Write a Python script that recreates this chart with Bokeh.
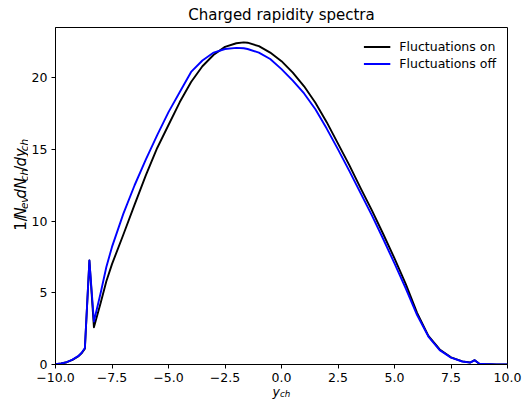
import math
from bokeh.plotting import figure
from bokeh.layouts import row
from bokeh.models import Label, FixedTicker, Legend, LegendItem, Range1d
from bokeh.embed import file_html
from bokeh.resources import INLINE

# ---- data ----
rapidity = [-10.0, -9.75, -9.5, -9.25, -9.0, -8.85, -8.7, -8.5, -8.3, -8.0, -7.75, -7.5,
            -7.0, -6.5, -6.0, -5.5, -5.0, -4.5, -4.0, -3.5, -3.0, -2.5, -2.0, -1.67,
            -1.5, -1.0, -0.5, 0.0, 0.5, 1.0, 1.5, 2.0, 2.5, 3.0, 3.5, 4.0, 4.5, 5.0,
            5.5, 6.0, 6.5, 7.0, 7.5, 8.0, 8.35, 8.55, 8.75, 9.0, 9.5, 10.0]
fluct_on = [0.02, 0.07, 0.16, 0.32, 0.56, 0.78, 1.1, 7.25, 2.6, 4.3, 5.8, 7.0,
            9.05, 11.15, 13.2, 15.1, 16.7, 18.3, 19.7, 20.8, 21.6, 22.15, 22.4, 22.46,
            22.44, 22.2, 21.75, 21.15, 20.35, 19.4, 18.25, 16.9, 15.4, 13.9, 12.3, 10.75, 9.1, 7.4,
            5.6, 3.6, 2.0, 1.05, 0.5, 0.22, 0.14, 0.3, 0.06, 0.03, 0.01, 0.0]
fluct_off = [0.02, 0.07, 0.17, 0.34, 0.58, 0.8, 1.15, 7.25, 3.0, 5.0, 6.8, 8.2,
             10.5, 12.5, 14.3, 16.0, 17.6, 19.0, 20.4, 21.2, 21.75, 22.0, 22.08, 22.05,
             22.0, 21.75, 21.3, 20.6, 19.8, 18.9, 17.8, 16.45, 15.0, 13.5, 11.95, 10.4, 8.75, 7.05,
             5.3, 3.45, 1.95, 1.0, 0.48, 0.21, 0.13, 0.3, 0.06, 0.03, 0.01, 0.0]
series_names = ["Fluctuations on", "Fluctuations off"]
x_ticks = [-10, -7.5, -5, -2.5, 0, 2.5, 5, 7.5, 10]
x_tick_labels = ["\u221210.0", "\u22127.5", "\u22125.0", "\u22122.5", "0.0", "2.5", "5.0", "7.5", "10.0"]
y_ticks = [0, 5, 10, 15, 20]
y_tick_labels = ["0", "5", "10", "15", "20"]
title_text = "Charged rapidity spectra"

# ---- layout constants ----
X0, X1, Y0, Y1 = -10.0, 10.0, 0.0, 23.5
FW, FH = 452, 337
LABW = 28                 # width of the strip that holds the y-axis title
H = 403
FONT = "DejaVu Sans"
MAIN = 12.5
SUB = 8.75
YMAIN = 15
YSUB = 10.5

p = figure(frame_width=FW, frame_height=FH,
           x_range=Range1d(X0, X1), y_range=Range1d(Y0, Y1),
           output_backend="svg", toolbar_location=None, title=title_text,
           min_border_left=55 - LABW, min_border_right=16, min_border_top=27, min_border_bottom=39)
p.background_fill_color = "white"
p.border_fill_color = "white"
p.grid.visible = False
p.outline_line_color = "black"
p.outline_line_width = 1
p.outline_line_alpha = 1

p.title.text_font = FONT
p.title.text_font_size = "15px"
p.title.text_font_style = "normal"
p.title.text_color = "black"
p.title.align = "center"
p.title.standoff = 7

for ax in (p.xaxis[0], p.yaxis[0]):
    ax.axis_line_color = "black"
    ax.major_tick_line_color = "black"
    ax.major_tick_out = 4
    ax.major_tick_in = 0
    ax.minor_tick_line_color = None
    ax.major_label_text_font = FONT
    ax.major_label_text_font_size = f"{MAIN}px"
    ax.major_label_text_color = "black"
    ax.major_label_standoff = 4

p.xaxis.ticker = FixedTicker(ticks=x_ticks)
p.xaxis.major_label_overrides = {t: l for t, l in zip(x_ticks, x_tick_labels)}
p.yaxis.ticker = FixedTicker(ticks=y_ticks)
p.yaxis.major_label_overrides = {t: l for t, l in zip(y_ticks, y_tick_labels)}

r_on = p.line(rapidity, fluct_on, line_color="black", line_width=1.9, line_join="round")
r_off = p.line(rapidity, fluct_off, line_color="#0000ff", line_width=1.9, line_join="round")

legend = Legend(items=[LegendItem(label=series_names[0], renderers=[r_on]),
                       LegendItem(label=series_names[1], renderers=[r_off])],
                location="top_right", border_line_color=None, background_fill_alpha=0,
                margin=11, padding=4, spacing=0, glyph_width=27, glyph_height=17,
                label_height=17, label_standoff=9,
                label_text_font=FONT, label_text_font_size=f"{MAIN}px", label_text_color="black")
p.add_layout(legend)

# advance widths (em) of the DejaVu Sans glyphs used
W = {"1": 0.636, "/": 0.337, "N": 0.748, "e": 0.615, "v": 0.592, "d": 0.635,
     "c": 0.550, "h": 0.634, "y": 0.592}

def width(s, size):
    return sum(W[ch] for ch in s) * size

def make_label(x, y, text, size, italic, angle=0.0):
    return Label(x=x, y=y, text=text, angle=angle, text_font=FONT,
                 text_font_size=f"{size}px",
                 text_font_style="italic" if italic else "normal",
                 text_color="black", text_align="left", text_baseline="alphabetic")

# x axis title y_ch (frame pixel offsets -> data)
def dx(px):
    return X0 + px * (X1 - X0) / FW

def dy(py):
    return Y0 + py * (Y1 - Y0) / FH

xw_main = width("y", MAIN)
xw_total = xw_main + width("ch", SUB)
x_start = FW / 2 - xw_total / 2
p.add_layout(make_label(dx(x_start), dy(-27), "y", MAIN, True), "below")
p.add_layout(make_label(dx(x_start + xw_main), dy(-29.5), "ch", SUB, True), "right")

# y axis title strip: 1/N_ev dN_ch/dy_ch, reading upwards
ylab = figure(width=LABW, height=H, x_range=Range1d(0, LABW), y_range=Range1d(0, H),
              output_backend="svg", toolbar_location=None, min_border=0,
              x_axis_location=None, y_axis_location=None)
ylab.grid.visible = False
ylab.outline_line_color = None
ylab.background_fill_color = "white"
ylab.border_fill_color = "white"

ypieces = [("1/", False, False), ("N", True, False), ("ev", True, True), ("dN", True, False),
           ("ch", True, True), ("/", False, False), ("dy", True, False), ("ch", True, True)]
pos = H - 243          # bottom end of the title
base = 20              # baseline position across the strip
for t, it, s in ypieces:
    size = YSUB if s else YMAIN
    ylab.add_layout(make_label(base + (3 if s else 0), pos, t, size, it, angle=math.pi / 2))
    pos += width(t, size)

layout = row(ylab, p)
open("out.html", "w").write(file_html(layout, INLINE))
